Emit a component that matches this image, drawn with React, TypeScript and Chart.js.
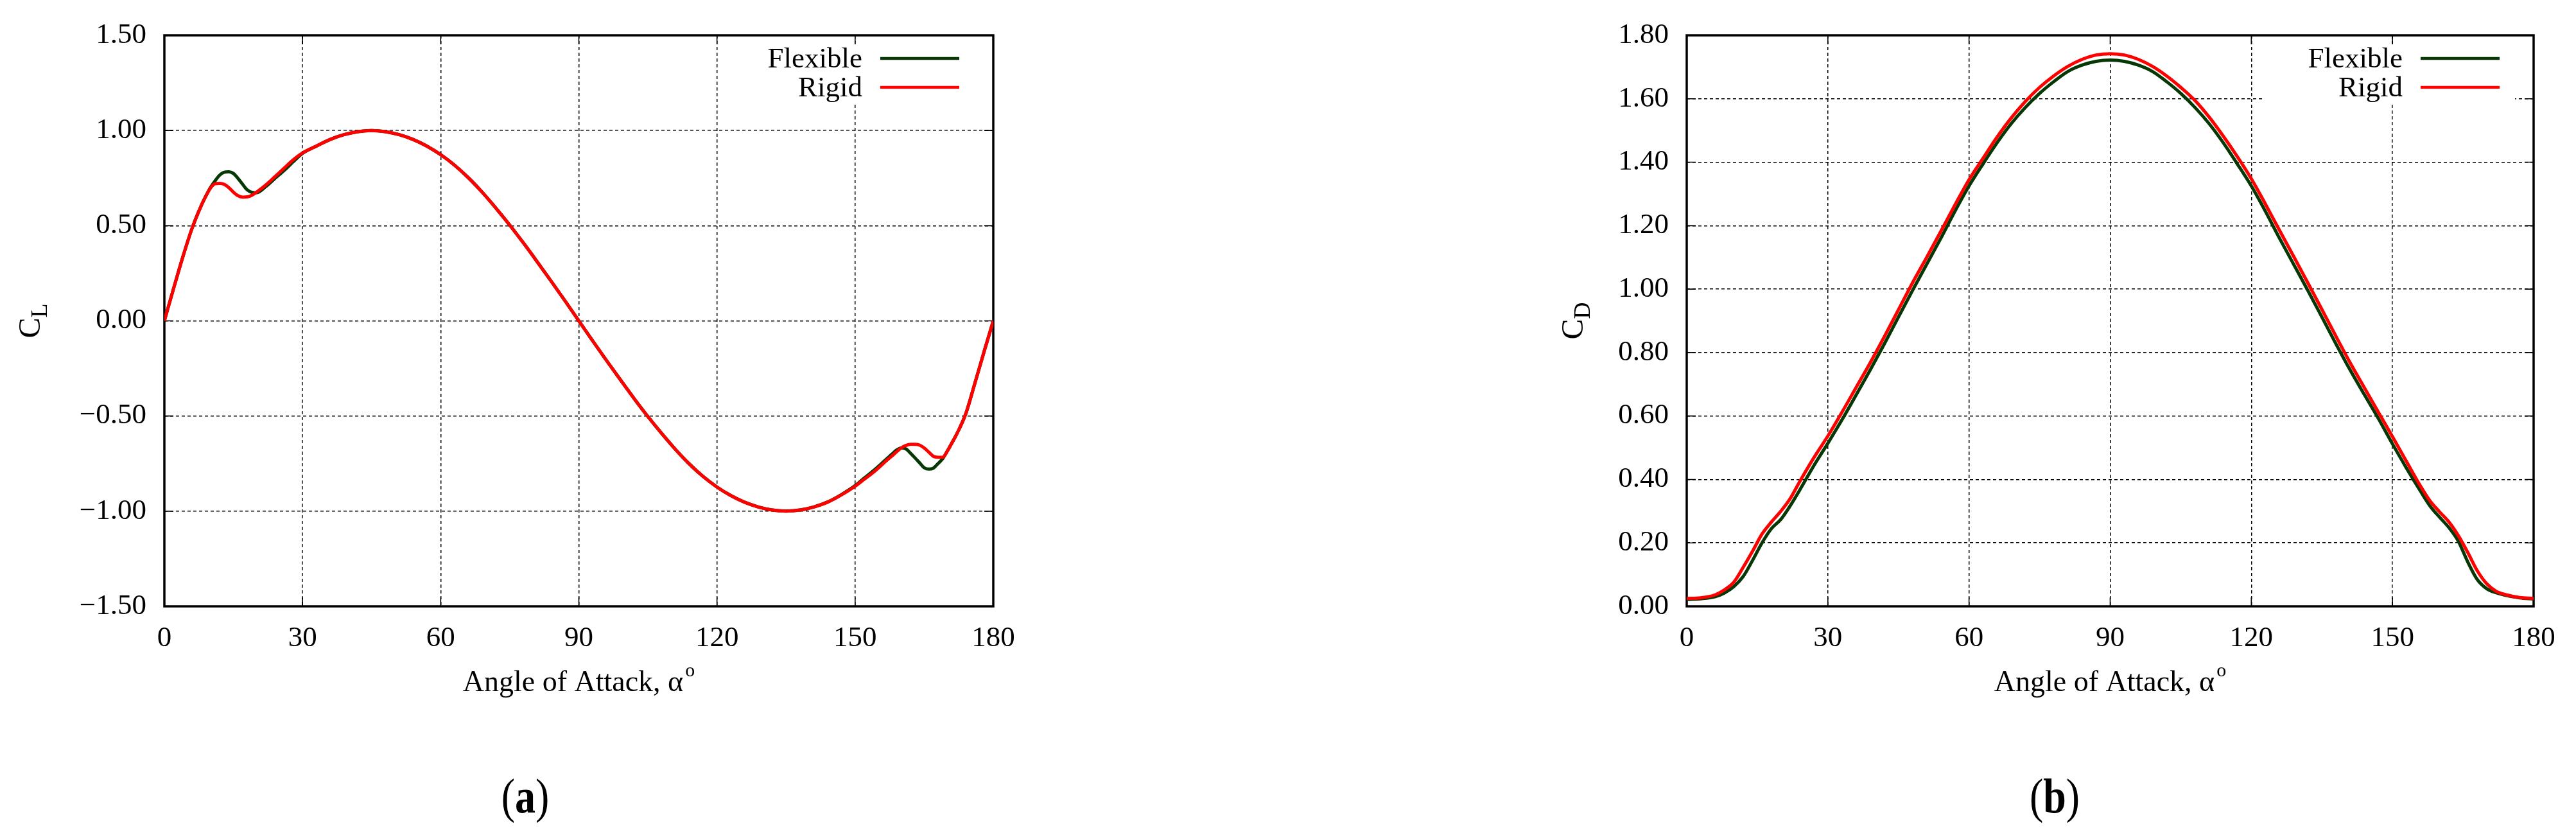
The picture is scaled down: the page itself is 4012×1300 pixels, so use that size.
import { useEffect, useRef } from "react";
import { Chart, registerables } from "chart.js";

Chart.register(...registerables);

const SERIF = "'Liberation Serif', 'Times New Roman', serif";

// panel (a): lift coefficient against angle of attack
const clAlpha = [
  0, 2, 4, 6, 8, 9, 10, 11, 12, 13, 14, 15, 16, 17, 18, 19, 20, 22, 24, 26, 28, 30,
  33, 36, 39, 42, 45, 48, 51, 54, 57, 60, 63, 66, 69, 72, 75, 78, 81, 84, 87, 90,
  93, 96, 99, 102, 105, 108, 111, 114, 117, 120, 123, 126, 129, 132, 135, 138, 141, 144, 147, 150,
  152, 154, 156, 157, 158, 159, 160, 161, 162, 163, 164, 165, 166, 167, 168, 169, 170, 171, 172,
  174, 176, 178, 180,
];
const clFlexible = [
  0, 0.17, 0.335, 0.485, 0.605, 0.655, 0.7, 0.735, 0.765, 0.781, 0.783, 0.774, 0.748, 0.717, 0.688, 0.675, 0.673, 0.705, 0.748, 0.79, 0.836, 0.88,
  0.918, 0.953, 0.978, 0.994, 1.0, 0.994, 0.978, 0.953, 0.918, 0.873, 0.818, 0.752, 0.676, 0.592, 0.503, 0.408, 0.309, 0.208, 0.105, 0,
  -0.105, -0.208, -0.309, -0.408, -0.503, -0.592, -0.676, -0.752, -0.818, -0.873, -0.918, -0.953, -0.978, -0.994, -1.0, -0.994, -0.978, -0.952, -0.913, -0.866,
  -0.826, -0.787, -0.744, -0.722, -0.7, -0.679, -0.668, -0.672, -0.695, -0.72, -0.746, -0.772, -0.779, -0.774, -0.75, -0.725, -0.685, -0.642, -0.598,
  -0.49, -0.328, -0.162, 0,
];
const clRigid = [
  0, 0.17, 0.335, 0.485, 0.605, 0.655, 0.697, 0.72, 0.722, 0.717, 0.7, 0.676, 0.657, 0.65, 0.651, 0.66, 0.676, 0.713, 0.757, 0.802, 0.846, 0.882,
  0.918, 0.953, 0.978, 0.994, 1.0, 0.994, 0.978, 0.953, 0.918, 0.873, 0.818, 0.752, 0.676, 0.592, 0.503, 0.408, 0.309, 0.208, 0.105, 0,
  -0.105, -0.208, -0.309, -0.408, -0.503, -0.592, -0.676, -0.752, -0.818, -0.873, -0.918, -0.953, -0.978, -0.994, -1.0, -0.994, -0.978, -0.953, -0.915, -0.869,
  -0.832, -0.795, -0.752, -0.73, -0.71, -0.688, -0.668, -0.655, -0.649, -0.649, -0.653, -0.668, -0.69, -0.712, -0.717, -0.717, -0.685, -0.642, -0.598,
  -0.49, -0.328, -0.162, 0,
];
const clTicks = [-1.5, -1, -0.5, 0, 0.5, 1, 1.5];

// panel (b): drag coefficient against angle of attack
const cdAlpha = [
  0, 3, 6, 8, 10, 12, 14, 16, 18, 20, 22, 24, 27, 30, 33, 36, 39, 42, 45, 48, 51, 54, 57, 60,
  63, 66, 69, 72, 75, 78, 81, 84, 87, 90, 93, 96, 99, 102, 105, 108, 111, 114, 117, 120,
  123, 126, 129, 132, 135, 138, 141, 144, 147, 150, 153, 156, 158, 160, 162, 164, 166, 168, 170, 172,
  174, 177, 180,
];
const cdFlexible = [
  0.022, 0.024, 0.03, 0.042, 0.062, 0.094, 0.145, 0.2, 0.245, 0.274, 0.317, 0.366, 0.443, 0.514, 0.588, 0.666, 0.745, 0.827, 0.912, 0.996, 1.078, 1.16, 1.245, 1.325,
  1.395, 1.462, 1.522, 1.573, 1.617, 1.654, 1.686, 1.706, 1.718, 1.722, 1.718, 1.706, 1.686, 1.654, 1.617, 1.573, 1.522, 1.462, 1.395, 1.325,
  1.245, 1.16, 1.078, 0.996, 0.912, 0.827, 0.745, 0.668, 0.592, 0.512, 0.435, 0.362, 0.316, 0.281, 0.248, 0.205, 0.14, 0.085, 0.056, 0.043,
  0.035, 0.027, 0.023,
];
const cdRigid = [
  0.025, 0.027, 0.036, 0.052, 0.076, 0.123, 0.174, 0.228, 0.266, 0.3, 0.34, 0.393, 0.468, 0.537, 0.612, 0.69, 0.768, 0.85, 0.935, 1.02, 1.1, 1.182, 1.265, 1.345,
  1.413, 1.48, 1.54, 1.592, 1.636, 1.672, 1.702, 1.724, 1.738, 1.742, 1.738, 1.724, 1.702, 1.672, 1.636, 1.595, 1.543, 1.483, 1.418, 1.348,
  1.268, 1.185, 1.103, 1.02, 0.936, 0.851, 0.768, 0.69, 0.612, 0.535, 0.456, 0.378, 0.332, 0.298, 0.266, 0.223, 0.17, 0.113, 0.072, 0.048,
  0.037, 0.028, 0.025,
];
const cdTicks = [0, 0.2, 0.4, 0.6, 0.8, 1.0, 1.2, 1.4, 1.6, 1.8];

const alphaTicks = [0, 30, 60, 90, 120, 150, 180];
const seriesNames = ["Flexible", "Rigid"];
const seriesColors = ["#053805", "#ff0000"];

const fmt = (v: number) => (v < 0 ? "\u2212" : "") + Math.abs(v).toFixed(2);

interface PanelProps {
  left: number;
  width: number;
  height: number;
  areaLeft: number;
  areaRight: number;
  areaTop: number;
  areaBottom: number;
  alpha: number[];
  series: number[][];
  yTicks: number[];
  ySub: string;
  yTitleX: number;
  caption: string;
  captionX: number;
}

function Panel(p: PanelProps) {
  const chartRef = useRef<HTMLCanvasElement>(null);

  useEffect(() => {
    if (!chartRef.current) return;

    // gnuplot look: opaque key, framed box with inward mirrored ticks, custom titles
    const decor = {
      id: "decor",
      beforeDatasetsDraw(chart: any) {
        const { ctx, chartArea: a, scales } = chart;
        ctx.save();
        const lineEnd = a.right - 53;
        const textRight = lineEnd - 123 - 28;
        ctx.fillStyle = "#fff";
        ctx.fillRect(textRight - 215, a.top + 13, lineEnd + 24 - (textRight - 215), 94);

        ctx.strokeStyle = "#000";
        ctx.lineWidth = 1.6;
        ctx.beginPath();
        alphaTicks.forEach((v) => {
          const px = scales.x.getPixelForValue(v);
          ctx.moveTo(px, a.bottom);
          ctx.lineTo(px, a.bottom - 14);
          ctx.moveTo(px, a.top);
          ctx.lineTo(px, a.top + 14);
        });
        p.yTicks.forEach((v) => {
          const py = scales.y.getPixelForValue(v);
          ctx.moveTo(a.left, py);
          ctx.lineTo(a.left + 14, py);
          ctx.moveTo(a.right, py);
          ctx.lineTo(a.right - 14, py);
        });
        ctx.stroke();
        ctx.lineWidth = 3.5;
        ctx.strokeRect(a.left, a.top, a.right - a.left, a.bottom - a.top);
        ctx.restore();
      },
      afterDraw(chart: any) {
        const { ctx, chartArea: a } = chart;
        ctx.save();
        ctx.fillStyle = "#000";

        // key
        const lineEnd = a.right - 53;
        const lineStart = lineEnd - 123;
        chart.data.datasets.forEach((ds: any, i: number) => {
          const y = a.top + 36 + i * 45;
          ctx.font = `45px ${SERIF}`;
          ctx.textAlign = "right";
          ctx.textBaseline = "alphabetic";
          ctx.fillText(ds.label, lineStart - 28, y + 14);
          ctx.strokeStyle = ds.borderColor;
          ctx.lineWidth = 4.5;
          ctx.beginPath();
          ctx.moveTo(lineStart, y);
          ctx.lineTo(lineEnd, y);
          ctx.stroke();
        });

        // y title: C with subscript, rotated
        ctx.font = `48px ${SERIF}`;
        const wC = ctx.measureText("C").width;
        ctx.font = `36px ${SERIF}`;
        const wS = ctx.measureText(p.ySub).width;
        ctx.translate(p.yTitleX, (a.top + a.bottom) / 2);
        ctx.rotate(-Math.PI / 2);
        ctx.textAlign = "left";
        const sx = -(wC + wS) / 2;
        ctx.font = `48px ${SERIF}`;
        ctx.fillText("C", sx, 0);
        ctx.font = `36px ${SERIF}`;
        ctx.fillText(p.ySub, sx + wC, 11);
        ctx.setTransform(1, 0, 0, 1, 0, 0);

        // x title with superscript o
        const main = "Angle of Attack, \u03b1";
        ctx.font = `46px ${SERIF}`;
        const wMain = ctx.measureText(main).width;
        ctx.font = `30px ${SERIF}`;
        const wSup = ctx.measureText("o").width;
        const x0 = (a.left + a.right) / 2 - (wMain + 3 + wSup) / 2;
        ctx.font = `46px ${SERIF}`;
        ctx.fillText(main, x0, 1076);
        ctx.font = `30px ${SERIF}`;
        ctx.fillText("o", x0 + wMain + 3, 1053);
        ctx.restore();
      },
    };

    const tickFont = { family: SERIF, size: 45 };

    const chart = new Chart(chartRef.current, {
      type: "line",
      data: {
        datasets: p.series.map((ys, i) => ({
          label: seriesNames[i],
          data: p.alpha.map((a, j) => ({ x: a, y: ys[j] })),
          borderColor: seriesColors[i],
          backgroundColor: seriesColors[i],
          borderWidth: 5,
          pointRadius: 0,
          cubicInterpolationMode: "monotone" as const,
          order: seriesNames.length - i,
        })),
      },
      options: {
        responsive: false,
        animation: false,
        devicePixelRatio: 1,
        layout: {
          padding: { left: 0, top: p.areaTop, right: p.width - p.areaRight, bottom: 0 },
        },
        plugins: {
          legend: { display: false },
          tooltip: { enabled: false },
        },
        scales: {
          x: {
            type: "linear",
            min: 0,
            max: 180,
            afterBuildTicks: (s: any) => {
              s.ticks = alphaTicks.map((v) => ({ value: v }));
            },
            afterFit: (s: any) => {
              s.height = p.height - p.areaBottom;
            },
            ticks: { font: tickFont, color: "#000", padding: 23, callback: (v: any) => String(v) },
            grid: { color: "#000", lineWidth: 1.5, drawTicks: false },
            border: { display: false, dash: [5, 4] },
          },
          y: {
            type: "linear",
            min: p.yTicks[0],
            max: p.yTicks[p.yTicks.length - 1],
            afterBuildTicks: (s: any) => {
              s.ticks = p.yTicks.map((v) => ({ value: v }));
            },
            afterFit: (s: any) => {
              s.width = p.areaLeft;
            },
            ticks: { font: tickFont, color: "#000", padding: 28, callback: (v: any) => fmt(Number(v)) },
            grid: { color: "#000", lineWidth: 1.5, drawTicks: false },
            border: { display: false, dash: [5, 4] },
          },
        },
      },
      plugins: [decor],
    });

    return () => chart.destroy();
  }, []);

  return (
    <>
      <canvas
        ref={chartRef}
        width={p.width}
        height={p.height}
        style={{ position: "absolute", left: p.left, top: 0, width: p.width, height: p.height }}
      />
      <div
        style={{
          position: "absolute",
          left: p.captionX - 100,
          top: 1200,
          width: 200,
          height: 80,
          lineHeight: "80px",
          textAlign: "center",
          fontFamily: SERIF,
          fontSize: 64,
          color: "#000",
          transform: "scaleY(1.2)",
        }}
      >
        (<b>{p.caption}</b>)
      </div>
    </>
  );
}

export default function App() {
  return (
    <div
      style={{
        position: "absolute",
        left: 0,
        top: 0,
        width: 4012,
        height: 1300,
        background: "#fff",
        overflow: "hidden",
      }}
    >
      <Panel
        left={0}
        width={1640}
        height={1130}
        areaLeft={256}
        areaRight={1547}
        areaTop={45}
        areaBottom={944}
        alpha={clAlpha}
        series={[clFlexible, clRigid]}
        yTicks={clTicks}
        ySub="L"
        yTitleX={62}
        caption="a"
        captionX={818}
      />
      <Panel
        left={2300}
        width={1712}
        height={1130}
        areaLeft={327}
        areaRight={1646}
        areaTop={45}
        areaBottom={944}
        alpha={cdAlpha}
        series={[cdFlexible, cdRigid]}
        yTicks={cdTicks}
        ySub="D"
        yTitleX={165}
        caption="b"
        captionX={3200}
      />
    </div>
  );
}
